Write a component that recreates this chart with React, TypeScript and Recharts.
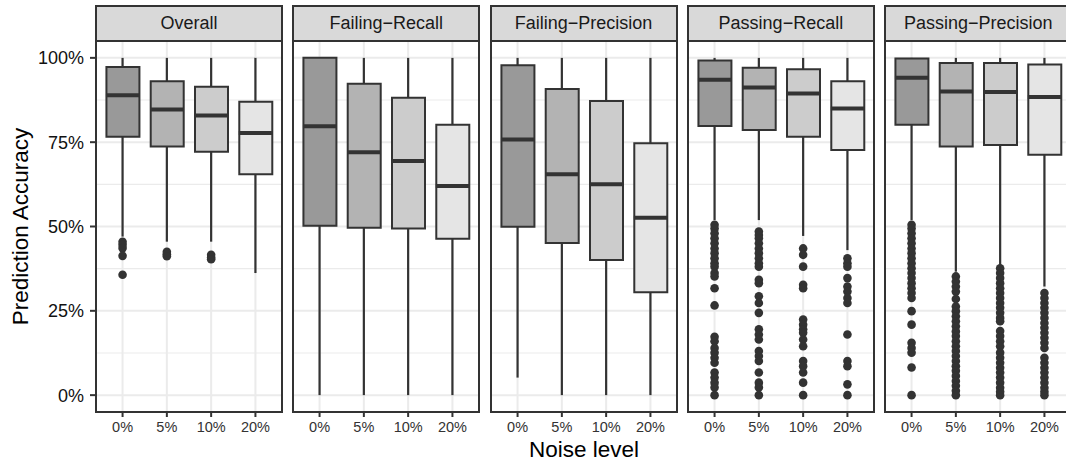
import { ComposedChart, Bar, Scatter, XAxis, YAxis, CartesianGrid, ErrorBar, Cell } from 'recharts';

const noiseLevels = ['0%', '5%', '10%', '20%'];
const panelTitles = ['Overall', 'Failing−Recall', 'Failing−Precision', 'Passing−Recall', 'Passing−Precision'];
const yTicks = [0, 25, 50, 75, 100];
const yMinorTicks = [12.5, 37.5, 62.5, 87.5];
const boxFills = ['#999999', '#b3b3b3', '#cccccc', '#e5e5e5'];

// one row per noise level: [lower whisker, q1, median, q3, upper whisker]
const overallBoxes = [
  [47, 76.6, 88.9, 97.3, 100],
  [45.5, 73.7, 84.7, 93.1, 100],
  [45.5, 72.2, 82.9, 91.4, 100],
  [36.2, 65.5, 77.7, 87.0, 100],
];
const failingRecallBoxes = [
  [0, 50.2, 79.7, 100, 100],
  [0, 49.6, 72.0, 92.3, 100],
  [0, 49.4, 69.4, 88.2, 100],
  [0, 46.4, 62.0, 80.2, 100],
];
const failingPrecisionBoxes = [
  [5.2, 49.9, 75.8, 97.8, 100],
  [0, 45.1, 65.5, 90.8, 100],
  [0, 40.1, 62.5, 87.2, 100],
  [0, 30.5, 52.6, 74.7, 100],
];
const passingRecallBoxes = [
  [51.9, 79.8, 93.5, 99.2, 100],
  [51.9, 78.6, 91.2, 97.1, 100],
  [47.2, 76.6, 89.4, 96.6, 100],
  [43.0, 72.7, 85.0, 93.1, 100],
];
const passingPrecisionBoxes = [
  [51.9, 80.2, 94.1, 99.8, 100],
  [36.6, 73.7, 90.0, 98.5, 100],
  [38.6, 74.2, 89.9, 98.5, 100],
  [32.2, 71.3, 88.4, 98.0, 100],
];

const overallOutliers = [
  [45.5, 44.6, 43.6, 41.3, 35.7],
  [42.5, 41.8, 41.2],
  [41.6, 40.8, 40.3],
  [],
];
const failingRecallOutliers = [[], [], [], []];
const failingPrecisionOutliers = [[], [], [], []];
const passingRecallOutliers = [
  [50.5, 49.4, 48.0, 46.5, 45.0, 43.5, 42.1, 40.6, 39.1, 38.1, 36.2, 35.2, 31.7, 26.6, 17.3, 16.0, 14.0, 12.6, 11.1, 9.6, 6.7, 5.2, 3.7, 2.3, 0],
  [48.5, 47.5, 46.5, 45.0, 43.5, 42.1, 40.6, 39.1, 38.1, 34.2, 33.2, 29.3, 27.3, 24.4, 19.5, 18.0, 16.5, 13.1, 11.6, 10.1, 6.7, 3.7, 2.3, 0],
  [43.5, 41.6, 38.1, 32.7, 31.7, 22.4, 20.9, 19.5, 18.5, 16.5, 14.5, 10.1, 8.6, 6.7, 3.7, 0],
  [40.6, 39.1, 38.1, 34.7, 32.2, 30.7, 28.8, 27.3, 18.0, 10.1, 8.6, 3.2, 0],
];
const passingPrecisionOutliers = [
  [50.5, 49.4, 48.0, 46.5, 45.0, 43.5, 42.1, 40.6, 39.1, 37.6, 36.2, 34.7, 33.2, 31.7, 30.3, 28.8, 24.9, 20.9, 15.5, 14.0, 12.6, 8.2, 0],
  [35.2, 33.7, 32.2, 30.7, 28.5, 26.3, 24.9, 23.4, 21.9, 20.4, 18.9, 17.5, 16.0, 14.5, 13.1, 11.6, 10.1, 8.6, 7.2, 5.7, 4.2, 2.8, 1.3, 0],
  [37.6, 36.2, 34.7, 33.2, 31.7, 30.3, 28.8, 27.3, 25.9, 24.4, 22.9, 21.9, 19.0, 17.5, 16.0, 14.5, 12.6, 11.1, 9.6, 8.1, 6.7, 5.2, 3.7, 2.2, 1.0, 0],
  [30.3, 28.8, 27.3, 25.9, 24.4, 22.9, 21.4, 20.0, 18.5, 17.0, 15.5, 14.0, 11.1, 9.6, 8.1, 6.7, 5.2, 3.7, 2.2, 1.0, 0],
];

const boxSets = [overallBoxes, failingRecallBoxes, failingPrecisionBoxes, passingRecallBoxes, passingPrecisionBoxes];
const outlierSets = [overallOutliers, failingRecallOutliers, failingPrecisionOutliers, passingRecallOutliers, passingPrecisionOutliers];

const PLOT_LEFT = 96;
const PLOT_TOP = 41;
const PLOT_H = 371;
const PANEL_W = 186;
const STEP = 197.3;
const STRIP_TOP = 4.7;
const AXIS_H = 45;
const INK = '#333333';

const noShape = () => <g />;
const medianShape = (p: any) => (
  <line x1={p.cx - 16.6} x2={p.cx + 16.6} y1={p.cy} y2={p.cy} stroke={INK} strokeWidth={4} />
);
const dotShape = (p: any) => <circle cx={p.cx} cy={p.cy} r={4.3} fill={INK} />;

function Panel({ index }: { index: number }) {
  const rows = boxSets[index].map((b, i) => ({ pos: i + 1, lo: b[0], q1: b[1], med: b[2], q3: b[3], hi: b[4] }));
  const upper = rows.map((r) => ({ pos: r.pos, y: r.q3, err: [0, r.hi - r.q3] }));
  const lower = rows.map((r) => ({ pos: r.pos, y: r.q1, err: [r.q1 - r.lo, 0] }));
  const medians = rows.map((r) => ({ pos: r.pos, y: r.med }));
  const points = outlierSets[index].flatMap((list, i) => list.map((v) => ({ pos: i + 1, y: v })));
  const showY = index === 0;
  const yW = showY ? PLOT_LEFT : 0;
  const plotLeft = PLOT_LEFT + index * STEP;

  return (
    <>
      <div style={{ position: 'absolute', left: plotLeft - yW, top: PLOT_TOP }}>
        <ComposedChart width={yW + PANEL_W} height={PLOT_H + AXIS_H} data={rows} margin={{ top: 0, right: 0, bottom: 0, left: 0 }}>
          <CartesianGrid horizontalValues={yMinorTicks} vertical={false} stroke="#ebebeb" strokeWidth={1.2} />
          <CartesianGrid horizontalValues={yTicks} verticalValues={[1, 2, 3, 4]} stroke="#ebebeb" strokeWidth={2} />
          <XAxis
            type="number"
            dataKey="pos"
            domain={[0.4, 4.6]}
            ticks={[1, 2, 3, 4]}
            interval={0}
            allowDataOverflow
            tickFormatter={(v) => noiseLevels[v - 1]}
            axisLine={false}
            tickLine={{ stroke: INK, strokeWidth: 2 }}
            tickSize={5}
            tickMargin={5}
            height={AXIS_H}
            tick={{ fill: INK, fontSize: 14.5 }}
          />
          <YAxis
            type="number"
            hide={!showY}
            width={yW}
            domain={[-5, 105]}
            ticks={yTicks}
            allowDataOverflow
            tickFormatter={(v) => `${v}%`}
            axisLine={false}
            tickLine={{ stroke: INK, strokeWidth: 2 }}
            tickSize={6}
            tickMargin={6}
            tick={{ fill: '#111', fontSize: 18 }}
          />
          <Scatter data={upper} dataKey="y" shape={noShape} isAnimationActive={false}>
            <ErrorBar dataKey="err" direction="y" width={0} stroke={INK} strokeWidth={2.2} isAnimationActive={false} />
          </Scatter>
          <Scatter data={lower} dataKey="y" shape={noShape} isAnimationActive={false}>
            <ErrorBar dataKey="err" direction="y" width={0} stroke={INK} strokeWidth={2.2} isAnimationActive={false} />
          </Scatter>
          <Bar dataKey={(d: any) => [d.q1, d.q3]} barSize={33} stroke={INK} strokeWidth={2} isAnimationActive={false}>
            {rows.map((r, i) => (
              <Cell key={r.pos} fill={boxFills[i]} />
            ))}
          </Bar>
          <Scatter data={medians} dataKey="y" shape={medianShape} isAnimationActive={false} />
          {points.length > 0 && <Scatter data={points} dataKey="y" shape={dotShape} isAnimationActive={false} />}
        </ComposedChart>
      </div>
      <div
        style={{
          position: 'absolute',
          left: plotLeft - 1,
          top: PLOT_TOP - 1,
          width: PANEL_W + 2,
          height: PLOT_H + 2,
          border: `2px solid ${INK}`,
          boxSizing: 'border-box',
          pointerEvents: 'none',
        }}
      />
      <div
        style={{
          position: 'absolute',
          left: plotLeft - 1,
          top: STRIP_TOP,
          width: PANEL_W + 2,
          height: PLOT_TOP - STRIP_TOP + 1,
          border: `2px solid ${INK}`,
          boxSizing: 'border-box',
          background: '#d9d9d9',
          color: '#1a1a1a',
          fontSize: 18,
          display: 'flex',
          alignItems: 'center',
          justifyContent: 'center',
        }}
      >
        {panelTitles[index]}
      </div>
    </>
  );
}

export default function App() {
  return (
    <div
      style={{
        position: 'relative',
        width: 1066,
        height: 469,
        overflow: 'hidden',
        background: '#fff',
        fontFamily: '"Liberation Sans", Arial, sans-serif',
      }}
    >
      <style>{'body { margin: 0; }'}</style>
      {panelTitles.map((t, i) => (
        <Panel key={t} index={i} />
      ))}
      <svg width={1066} height={469} style={{ position: 'absolute', left: 0, top: 0, pointerEvents: 'none' }}>
        <text x={584} y={457} textAnchor="middle" fontSize={22.5} fill="#000">
          Noise level
        </text>
        <text transform="translate(28,226.5) rotate(-90)" textAnchor="middle" fontSize={22.5} fill="#000">
          Prediction Accuracy
        </text>
      </svg>
    </div>
  );
}
